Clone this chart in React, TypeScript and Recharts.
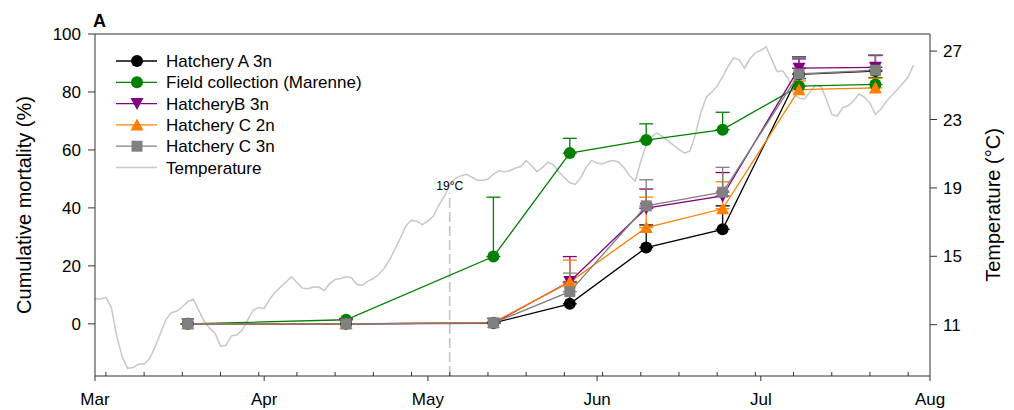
import React from "react";
import {
  LineChart,
  Line,
  XAxis,
  YAxis,
  ErrorBar,
  ReferenceLine,
  Legend,
} from "recharts";

// days counted from 1 March
const sampleDays = [17, 46, 73, 87, 101, 115, 129, 143];

const hatcheryA3n = [0, 0, 0.3, 6.9, 26.3, 32.6, 86.1, 87.2];
const hatcheryA3nErr = [0, 0, 0, 7.3, 7.8, 8.1, 6.0, 5.4];
const fieldMarenne = [0, 1.4, 23.2, 58.9, 63.4, 67.0, 82.0, 82.6];
const fieldMarenneErr = [0, 0.4, 20.5, 5.1, 5.6, 6.0, 2.6, 2.4];
const hatcheryB3n = [0, 0, 0.2, 14.6, 39.9, 44.1, 88.2, 88.5];
const hatcheryB3nErr = [0, 0, 0, 8.6, 6.6, 8.1, 3.2, 4.1];
const hatcheryC2n = [0, 0, 0.5, 14.4, 33.2, 39.7, 80.8, 81.4];
const hatcheryC2nErr = [0, 0, 0, 7.6, 10.5, 9.3, 3.0, 3.3];
const hatcheryC3n = [0, 0, 0.3, 11.1, 40.7, 45.4, 86.2, 87.5];
const hatcheryC3nErr = [0, 0, 0, 6.4, 9.0, 8.6, 5.8, 5.3];

// daily temperature from 1 March (day 0) to 30 July
const temperature = [
  12.5, 12.5, 12.6, 12.0, 10.3, 9.1, 8.45, 8.5, 8.7, 8.7,
  9.0, 9.7, 10.5, 11.3, 11.7, 11.8, 12.05, 12.35, 12.5, 11.85,
  11.2, 10.8, 10.5, 9.75, 9.8, 10.35, 10.4, 10.7, 11.3, 11.85,
  12.0, 11.95, 12.5, 12.9, 13.2, 13.5, 13.8, 13.45, 13.15, 13.1,
  13.2, 13.2, 13.0, 13.4, 13.65, 13.7, 13.8, 13.75, 13.35, 13.3,
  13.55, 13.7, 13.95, 14.3, 14.8, 15.45, 16.1, 16.8, 17.1, 17.05,
  16.85, 17.05, 17.35, 18.0, 18.5, 19.2, 19.55, 19.7, 19.8, 19.65,
  19.45, 19.45, 19.5, 19.8, 20.0, 19.95, 20.0, 20.15, 20.25, 20.6,
  20.3, 19.95, 20.2, 20.5, 20.35, 19.95, 19.6, 19.3, 19.2, 19.6,
  20.2, 20.6, 20.45, 20.4, 20.55, 20.6, 20.5, 20.15, 19.7, 19.4,
  20.55, 21.5, 22.0, 22.2, 22.0, 21.75, 21.5, 21.25, 21.05, 21.15,
  22.1, 23.4, 24.3, 24.6, 24.95, 25.5, 26.1, 26.6, 26.5, 26.0,
  26.55, 26.9, 27.05, 27.25, 26.5, 25.8, 25.85, 25.4, 24.5, 24.25,
  24.2, 24.6, 25.0, 24.95, 24.2, 23.3, 23.2, 23.7, 23.8, 24.1,
  24.5, 24.3, 23.95, 23.3, 23.6, 24.05, 24.4, 24.75, 25.1, 25.5,
  26.2,
];

const monthTicks = [0, 31, 61, 92, 122, 153];
const monthLabels = ["Mar", "Apr", "May", "Jun", "Jul", "Aug"];
const weekTicks = [
  2, 9, 16, 23, 30, 37, 44, 51, 58, 65, 72, 79, 86, 93, 100, 107, 114, 121,
  128, 135, 142, 149,
];
const mortalityTicks = [0, 20, 40, 60, 80, 100];
const tempTicks = [11, 15, 19, 23, 27];
const thresholdDay = 65;

const FONT = '"Liberation Sans", Arial, sans-serif';
const AXIS = "#333";

const series = [
  { key: "a3n", name: "Hatchery A 3n", color: "#000000", shape: "circle", values: hatcheryA3n, errs: hatcheryA3nErr },
  { key: "field", name: "Field collection (Marenne)", color: "#008000", shape: "circle", values: fieldMarenne, errs: fieldMarenneErr },
  { key: "b3n", name: "HatcheryB 3n", color: "#800080", shape: "down", values: hatcheryB3n, errs: hatcheryB3nErr },
  { key: "c2n", name: "Hatchery C 2n", color: "#ff7f00", shape: "up", values: hatcheryC2n, errs: hatcheryC2nErr },
  { key: "c3n", name: "Hatchery C 3n", color: "#808080", shape: "square", values: hatcheryC3n, errs: hatcheryC3nErr },
];

const mortalityData = sampleDays.map((day, i) => {
  const row: any = { day };
  series.forEach((s) => {
    row[s.key] = s.values[i];
    row[s.key + "Err"] = [0, s.errs[i]];
  });
  return row;
});

const tempData = temperature.map((t, i) => ({ day: i, temp: t }));

const marker = (shape: string, color: string, cx: number, cy: number, key?: any) => {
  if (shape === "circle") return <circle key={key} cx={cx} cy={cy} r={6} fill={color} />;
  if (shape === "square")
    return <rect key={key} x={cx - 5.5} y={cy - 5.5} width={11} height={11} fill={color} />;
  if (shape === "down")
    return (
      <polygon key={key} points={`${cx - 6.5},${cy - 5.5} ${cx + 6.5},${cy - 5.5} ${cx},${cy + 6.5}`} fill={color} />
    );
  return (
    <polygon key={key} points={`${cx - 6.5},${cy + 5.5} ${cx + 6.5},${cy + 5.5} ${cx},${cy - 6.5}`} fill={color} />
  );
};

const makeDot = (shape: string, color: string) => (props: any) => {
  const { cx, cy, index } = props;
  if (cx == null || cy == null) return <g key={`${shape}-${color}-${index}`} />;
  return marker(shape, color, cx, cy, `${shape}-${color}-${index}`);
};

const DateTick = (props: any) => {
  const { x, y, payload } = props;
  const axisY = y - 17;
  const idx = monthTicks.indexOf(payload.value);
  if (idx < 0) {
    return <line x1={x} y1={axisY} x2={x} y2={axisY - 4} stroke={AXIS} />;
  }
  return (
    <g>
      <line x1={x} y1={axisY} x2={x} y2={axisY + 5} stroke={AXIS} />
      <text x={x} y={axisY + 29} textAnchor="middle" fontSize={17} fontFamily={FONT} fill="#000">
        {monthLabels[idx]}
      </text>
    </g>
  );
};

const LegendBox = () => (
  <svg width={300} height={130} style={{ fontFamily: FONT }}>
    {series.map((s, i) => {
      const cy = 11 + i * 21.3;
      return (
        <g key={s.key}>
          <line x1={6} y1={cy} x2={47} y2={cy} stroke={s.color} strokeWidth={1.3} />
          {marker(s.shape, s.color, 27, cy)}
          <text x={56} y={cy + 6} fontSize={17} fill="#000">
            {s.name}
          </text>
        </g>
      );
    })}
    <line x1={6} y1={11 + 5 * 21.3} x2={47} y2={11 + 5 * 21.3} stroke="#c8c8c8" strokeWidth={1.5} />
    <text x={56} y={11 + 5 * 21.3 + 6} fontSize={17} fill="#000">
      Temperature
    </text>
  </svg>
);

const App = () => {
  return (
    <div style={{ position: "absolute", left: 0, top: 0, width: 1014, height: 410, background: "#fff" }}>
      <div
        style={{
          position: "absolute",
          left: 93,
          top: 12,
          fontFamily: FONT,
          fontWeight: "bold",
          fontSize: 18,
          lineHeight: "18px",
        }}
      >
        A
      </div>
      <LineChart width={1014} height={410} margin={{ top: 34, right: 0, bottom: 0, left: 0 }}>
        <XAxis
          dataKey="day"
          type="number"
          domain={[0, 153]}
          ticks={[...monthTicks, ...weekTicks].sort((p, q) => p - q)}
          interval={0}
          height={34}
          tickSize={5}
          tickMargin={12}
          tickLine={false}
          axisLine={{ stroke: AXIS }}
          tick={<DateTick />}
          allowDataOverflow
        />
        <YAxis
          yAxisId="left"
          type="number"
          domain={[-18, 100]}
          ticks={mortalityTicks}
          width={95}
          tickSize={7}
          tickMargin={7}
          stroke={AXIS}
          tick={{ fill: "#000", fontSize: 17, fontFamily: FONT }}
          label={{
            value: "Cumulative mortality (%)",
            angle: -90,
            position: "insideLeft",
            offset: 24,
            style: { textAnchor: "middle", fontSize: 20, fontFamily: FONT, fill: "#000" },
          }}
          allowDataOverflow
        />
        <YAxis
          yAxisId="right"
          orientation="right"
          type="number"
          domain={[8, 28]}
          ticks={tempTicks}
          width={84}
          tickSize={7}
          tickMargin={6}
          stroke={AXIS}
          tick={{ fill: "#000", fontSize: 17, fontFamily: FONT }}
          label={{
            value: "Temperature (°C)",
            angle: -90,
            position: "insideRight",
            offset: 21,
            style: { textAnchor: "middle", fontSize: 20, fontFamily: FONT, fill: "#000" },
          }}
          allowDataOverflow
        />
        <ReferenceLine yAxisId="left" y={100} stroke={AXIS} />
        <ReferenceLine
          yAxisId="right"
          segment={[
            { x: thresholdDay, y: 8 },
            { x: thresholdDay, y: 18.7 },
          ]}
          stroke="#c8c8c8"
          strokeWidth={1.8}
          strokeDasharray="10 4"
          label={{ value: "19°C", position: "top", offset: 3, fontSize: 12, fontFamily: FONT, fill: "#000" }}
        />
        <Line
          yAxisId="right"
          data={tempData}
          dataKey="temp"
          stroke="#c8c8c8"
          strokeWidth={1.5}
          dot={false}
          isAnimationActive={false}
          legendType="none"
        />
        {series.map((s) => (
          <Line
            key={s.key}
            yAxisId="left"
            data={mortalityData}
            dataKey={s.key}
            name={s.name}
            stroke={s.color}
            strokeWidth={1.3}
            dot={makeDot(s.shape, s.color)}
            activeDot={false}
            isAnimationActive={false}
          >
            <ErrorBar
              dataKey={s.key + "Err"}
              direction="y"
              width={7}
              stroke={s.color}
              strokeWidth={1.3}
              isAnimationActive={false}
            />
          </Line>
        ))}
        <Legend
          layout="vertical"
          align="center"
          verticalAlign="middle"
          wrapperStyle={{ left: 110, top: 50, width: 300 }}
          content={() => <LegendBox />}
        />
      </LineChart>
    </div>
  );
};

export default App;
